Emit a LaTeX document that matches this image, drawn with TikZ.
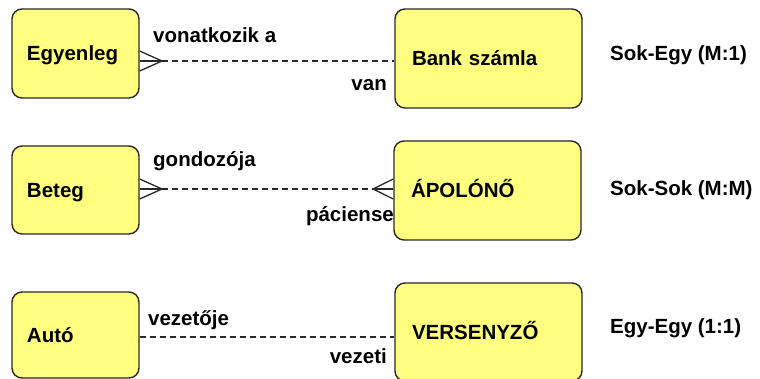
\documentclass[tikz,border=0pt]{standalone}
\usepackage{fontspec}
\setmainfont{Liberation Sans}
\definecolor{boxfill}{RGB}{255,255,128}
\definecolor{boxline}{RGB}{40,40,40}
\begin{document}
\begin{tikzpicture}[x=1pt,y=-1pt,
  every node/.style={font=\fontsize{20.5}{24}\selectfont\bfseries, text=black},
  entity/.style={draw=boxline, line width=1.4pt, fill=boxfill, rounded corners=10pt,
    inner ysep=0pt, align=left, text height=15pt, text depth=0.5pt},
  leftbox/.style={entity, minimum width=127pt, inner xsep=15pt, text width=97pt},
  rightbox/.style={entity, minimum width=187pt, inner xsep=17pt, text width=153pt},
  rel/.style={line width=1.3pt, dash pattern=on 6pt off 4pt, draw=boxline},
  crow/.style={line width=1.3pt, draw=boxline},
  lbl/.style={inner sep=0pt, anchor=base west},
  rlbl/.style={inner sep=0pt, anchor=base east}]
\useasboundingbox (0,0) rectangle (760,379);

% entities
\node[leftbox, minimum height=89pt] (egyenleg) at (75.5,53.5) {Egyenleg};
\node[rightbox, minimum height=99pt] (bank) at (488.5,58.5) {Bank számla};
\node[leftbox, minimum height=88pt] (beteg) at (75.5,190) {Beteg};
\node[rightbox, minimum height=99pt] (apolo) at (487.5,190.5) {ÁPOLÓNŐ};
\node[leftbox, minimum height=86pt] (auto) at (75.5,335) {Autó};
\node[rightbox, minimum height=98pt] (verseny) at (488.5,332) {VERSENYZŐ};

% Egyenleg -- Bank számla (many to one)
\coordinate (t1) at (162,61);
\draw[crow] (egyenleg.east |- 0,51) -- (t1) -- (egyenleg.east |- 0,71);
\draw[crow] (egyenleg.east |- t1) -- (t1);
\draw[rel] (t1) -- (bank.west |- t1);
\node[lbl] (l1a) at (153,43) {vonatkozik a};
\node[rlbl] (l1b) at (387,91) {van};

% Beteg -- ÁPOLÓNŐ (many to many)
\coordinate (t2) at (162,189);
\coordinate (t3) at (373,189);
\draw[crow] (beteg.east |- 0,179) -- (t2) -- (beteg.east |- 0,199);
\draw[crow] (beteg.east |- t2) -- (t2);
\draw[crow] (apolo.west |- 0,179) -- (t3) -- (apolo.west |- 0,199);
\draw[crow] (apolo.west |- t3) -- (t3);
\draw[rel] (t2) -- (t3);
\node[lbl] (l2a) at (153,167) {gondozója};
\node[rlbl] (l2b) at (394,222) {páciense};

% Autó -- VERSENYZŐ (one to one)
\draw[rel] (auto.east |- 0,337) -- (verseny.west |- 0,337);
\node[lbl] (l3a) at (148,325) {vezetője};
\node[rlbl] (l3b) at (387,363) {vezeti};

% cardinality captions
\node[lbl] (c1) at (610,61) {Sok-Egy (M:1)};
\node[lbl] (c2) at (610,196) {Sok-Sok (M:M)};
\node[lbl] (c3) at (610,333) {Egy-Egy (1:1)};
\end{tikzpicture}
\end{document}
